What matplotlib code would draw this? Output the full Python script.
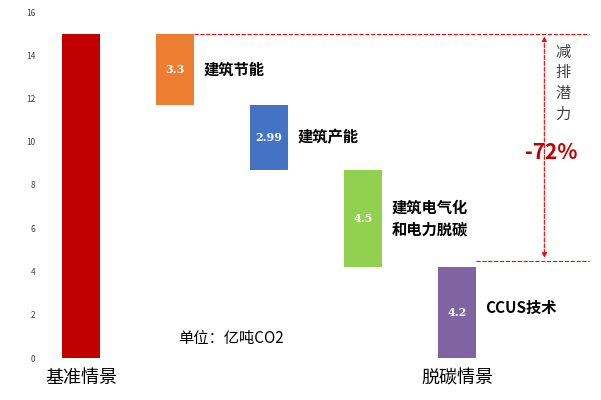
import matplotlib.pyplot as plt
from matplotlib.patches import FancyArrowPatch

plt.rcParams['font.family'] = ['Noto Sans CJK SC']

# data
labels = ['基准情景', '建筑节能', '建筑产能', '建筑电气化\n和电力脱碳', 'CCUS技术']
values = [15.0, 3.3, 2.99, 4.5, 4.2]
bottoms = [0, 11.7, 8.71, 4.2, 0]
colors = ['#C00000', '#ED7D31', '#4472C4', '#92D050', '#8064A2']
tick_labels = ['基准情景', '', '', '', '脱碳情景']

fig = plt.figure(figsize=(6.01, 4), dpi=100)
ax = fig.add_axes([0.0666, 0.105, 0.915, 0.865])
x = range(len(values))
ax.bar(x, values, bottom=bottoms, width=0.4, color=colors)

# value labels inside the step bars
for i in range(1, 5):
    ax.text(i, bottoms[i] + values[i] / 2, str(values[i]), color='white',
            ha='center', va='center', fontsize=8, fontweight='bold',
            family='DejaVu Serif')
    ax.text(i + 0.3, bottoms[i] + values[i] / 2 + (0.2 if i == 4 else 0.0),
            labels[i], ha='left', va='center', fontsize=11,
            fontweight='bold', linespacing=1.5)

ax.text(1.6, 0.9, '单位：亿吨CO2', fontsize=11, ha='center', va='center')

# reduction markers
ax.plot([1.2, 5.4], [15, 15], ls='--', color='red', lw=0.8)
ax.plot([4.2, 5.4], [4.5, 4.5], ls='--', color='red', lw=0.8)
ax.add_patch(FancyArrowPatch((4.93, 15), (4.93, 4.5), arrowstyle='<|-|>',
                             mutation_scale=7, ls='--', color='red', lw=0.8))
ax.text(5.13, 12.7, '减\n排\n潜\n力', ha='center', va='center', fontsize=11,
        color='#404040', linespacing=1.3)
ax.text(5.0, 9.5, '-72%', ha='center', va='center', fontsize=15,
        color='#C00000', fontweight='bold')

ax.set_xlim(-0.436, 5.415)
ax.set_ylim(0, 16)
ax.set_yticks(range(0, 17, 2))
ax.tick_params(axis='y', labelsize=6, length=0, colors='#404040')
ax.set_xticks(list(x))
ax.set_xticklabels(tick_labels, fontsize=13)
ax.tick_params(axis='x', length=0, pad=8)
for s in ax.spines.values():
    s.set_visible(False)

fig.savefig('out.png', dpi=100)
